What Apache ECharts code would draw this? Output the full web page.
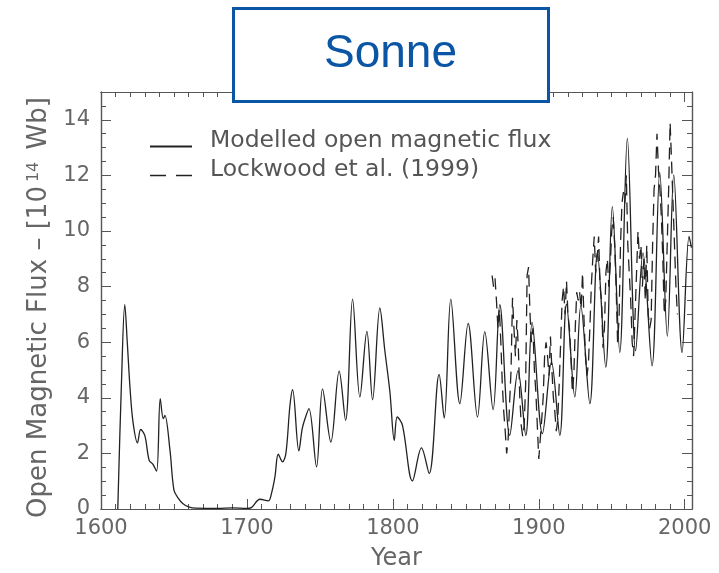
<!DOCTYPE html>
<html><head><meta charset="utf-8">
<script src="https://cdn.jsdelivr.net/npm/echarts@6/dist/echarts.min.js"></script>
<style>html,body{margin:0;padding:0;background:#fff}#c{width:719px;height:573px}</style>
</head><body><div id="c"></div>
<script>
const modelYears = [1611.5,1614,1616.3,1618,1620,1622,1625,1627.2,1630,1633,1635.4,1638.1,1640.6,1642.7,1643.8,1647.3,1650,1653,1656,1660,1665,1680,1690,1700,1703,1709,1714.6,1717,1719.2,1721.5,1724.4,1726.7,1729.5,1731.3,1735.6,1737.9,1740.2,1742.5,1747.7,1751.8,1757.5,1763.2,1767.6,1772.4,1777.4,1782.2,1786.1,1791.1,1794.5,1798,1801,1803,1806.6,1813.4,1819.6,1824.9,1831.7,1835.2,1839.7,1845.9,1851.6,1858,1863,1868.7,1873.3,1880.1,1885.8,1891.1,1895.4,1902.5,1908.7,1914.4,1919,1924.7,1928.8,1935,1940.2,1945.9,1950.4,1955.5,1960.7,1966.4,1971.4,1977.6,1982.9,1988.1,1992.5,1998.2,2003,2004.6];
const modelFlux = [0,4.5,7.35,6.0,4.27,3.1,2.38,2.86,2.65,1.75,1.62,1.36,3.97,3.25,3.37,2.1,0.68,0.38,0.2,0.08,0.03,0.02,0.04,0.02,0.05,0.35,0.29,0.6,1.16,1.97,1.7,2.0,3.73,4.29,2.09,2.89,3.31,3.61,1.52,4.32,2.41,4.96,3.19,7.55,4.03,6.39,3.93,7.23,5.7,4.2,2.47,3.31,3.01,1.01,2.2,1.28,4.84,3.27,7.55,3.79,6.68,3.31,6.38,3.57,7.35,2.65,4.98,2.65,6.71,2.71,5.28,2.65,7.37,4.03,7.31,3.79,9.22,5.1,10.88,5.63,13.33,5.69,9.21,5.15,12.1,6.22,12.02,5.63,9.81,9.4];
const lockwoodYears = [1868,1869,1870,1871,1872,1873,1874,1875,1876,1877,1878,1879,1880,1881,1882,1883,1884,1885,1886,1887,1888,1889,1890,1891,1892,1893,1894,1895,1896,1897,1898,1899,1900,1901,1902,1903,1904,1905,1906,1907,1908,1909,1910,1911,1912,1913,1914,1915,1916,1917,1918,1919,1920,1921,1922,1923,1924,1925,1926,1927,1928,1929,1930,1931,1932,1933,1934,1935,1936,1937,1938,1939,1940,1941,1942,1943,1944,1945,1946,1947,1948,1949,1950,1951,1952,1953,1954,1955,1956,1957,1958,1959,1960,1961,1962,1963,1964,1965,1966,1967,1968,1969,1970,1971,1972,1973,1974,1975,1976,1977,1978,1979,1980,1981,1982,1983,1984,1985,1986,1987,1988,1989,1990,1991,1992,1993,1994,1995];
const lockwoodFlux = [8.4,8.0,8.3,7.5,6.5,7.2,6.0,4.5,3.5,2.8,2.0,2.5,3.8,5.0,7.6,6.5,5.5,6.8,5.8,4.0,3.0,2.6,3.0,4.5,8.4,8.7,7.0,6.0,6.5,5.0,4.2,3.0,1.8,2.5,3.2,4.0,5.5,6.0,5.5,4.8,6.2,5.0,4.0,3.5,2.8,3.2,4.5,6.0,7.5,8.0,7.0,8.2,7.0,6.5,5.5,4.2,4.8,6.5,7.8,7.5,7.8,7.2,8.5,6.8,5.5,4.8,5.2,6.5,8.0,9.0,9.8,8.5,9.0,9.8,8.0,7.5,5.8,6.5,8.5,9.0,8.0,8.8,10.0,10.5,9.5,8.0,6.0,6.8,9.5,11.0,11.4,11.0,12.0,9.5,8.5,7.5,6.0,5.5,7.0,8.5,10.0,9.0,9.5,8.0,9.0,7.5,9.5,7.0,6.5,6.8,9.5,11.5,12.0,13.5,12.2,11.5,10.5,9.0,7.0,7.5,9.5,11.5,13.9,12.5,11.0,9.5,8.0,7.0];
const xMajorTicks = [1600,1700,1800,1900,2000];
const yMajorTicks = [0,2,4,6,8,10,12,14];
const seriesNames = ['Modelled open magnetic flux','Lockwood et al. (1999)'];

const xMinorTicks = []; for (let y = 1610; y < 2005; y += 10) if (y % 100) xMinorTicks.push(y);
const yMinorTicks = []; for (let v = 0.5; v < 15; v += 0.5) if (v % 2) yMinorTicks.push(v);

const AX = '#555', LBL = '#666', FONT = 'DejaVu Sans';
const XMIN = 1600, XMAX = 2005, YMIN = 0, YMAX = 15;

function xAx(pos, ticks, len, main) {
  return {
    type: 'value', position: pos, min: XMIN, max: XMAX,
    axisLine: { show: true, onZero: false, lineStyle: { color: AX, width: 1.2 } },
    axisTick: { show: true, inside: true, length: len, customValues: ticks, lineStyle: { color: AX, width: 1 } },
    axisLabel: main ? { show: true, customValues: xMajorTicks, margin: 9, color: LBL, fontSize: 21, fontFamily: FONT,
      formatter: v => String(v) } : { show: false },
    splitLine: { show: false },
    name: main ? 'Year' : '', nameLocation: 'middle', nameGap: 38,
    nameTextStyle: { color: LBL, fontSize: 24, fontFamily: FONT }
  };
}
function yAx(pos, ticks, len, main) {
  return {
    type: 'value', position: pos, min: YMIN, max: YMAX,
    axisLine: { show: true, onZero: false, lineStyle: { color: AX, width: 1.2 } },
    axisTick: { show: true, inside: true, length: len, customValues: ticks, lineStyle: { color: AX, width: 1 } },
    axisLabel: main ? { show: true, customValues: yMajorTicks, margin: 11, color: LBL, fontSize: 21, fontFamily: FONT,
      formatter: v => String(v) } : { show: false },
    splitLine: { show: false },
    name: main ? 'Open Magnetic Flux \u2013 [10{s|14} Wb]' : '', nameLocation: 'middle', nameGap: 44,
    nameTextStyle: { color: LBL, fontSize: 26, fontFamily: FONT, padding: [0, 14, 0, 0],
      rich: { s: { fontSize: 16, color: LBL, fontFamily: FONT, padding: [0, 4, 12, 4] } } }
  };
}

const chart = echarts.init(document.getElementById('c'));
chart.setOption({
  animation: false,
  backgroundColor: '#fff',
  title: {
    text: 'Sonne', left: 233, top: 8, padding: [19, 92, 21, 91],
    borderColor: '#0b55a5', borderWidth: 3, backgroundColor: '#fff',
    textStyle: { fontSize: 46, color: '#0b55a5', fontWeight: 'normal', fontFamily: 'Liberation Sans', lineHeight: 54 },
    z: 20
  },
  legend: {
    data: [
      { name: seriesNames[0] },
      { name: seriesNames[1], lineStyle: { type: [16, 10], width: 1.3, color: '#222' } }
    ],
    orient: 'vertical', left: 144, top: 124,
    itemWidth: 42, itemHeight: 14, itemGap: 5,
    itemStyle: { opacity: 0 },
    formatter: name => '{t|' + name + '}',
    textStyle: { fontSize: 23.5, color: '#555', fontFamily: FONT, padding: [0, 0, 0, 13],
      rich: { t: { fontSize: 23.5, color: '#555', fontFamily: FONT, padding: [0, 0, 11, 0] } } }
  },
  grid: { left: 101, top: 92, right: 27, bottom: 64, containLabel: false, outerBoundsMode: 'none' },
  xAxis: [xAx('bottom', xMajorTicks, 10, true), xAx('bottom', xMinorTicks, 5, false),
          xAx('top', xMajorTicks, 10, false), xAx('top', xMinorTicks, 5, false)],
  yAxis: [yAx('left', yMajorTicks, 10, true), yAx('left', yMinorTicks, 5, false),
          yAx('right', yMajorTicks, 10, false), yAx('right', yMinorTicks, 5, false)],
  series: [
    { name: seriesNames[0], type: 'line', xAxisIndex: 0, yAxisIndex: 0,
      data: modelYears.map((y, i) => [y, modelFlux[i]]), color: '#222',
      smooth: 0.35, symbol: 'none', lineStyle: { color: '#222', width: 1.3 } },
    { name: seriesNames[1], type: 'line', xAxisIndex: 0, yAxisIndex: 0,
      data: lockwoodYears.map((y, i) => [y, lockwoodFlux[i]]), color: '#222',
      symbol: 'none', lineStyle: { color: '#222', width: 1.3, type: [12, 7] } }
  ]
});
</script></body></html>
